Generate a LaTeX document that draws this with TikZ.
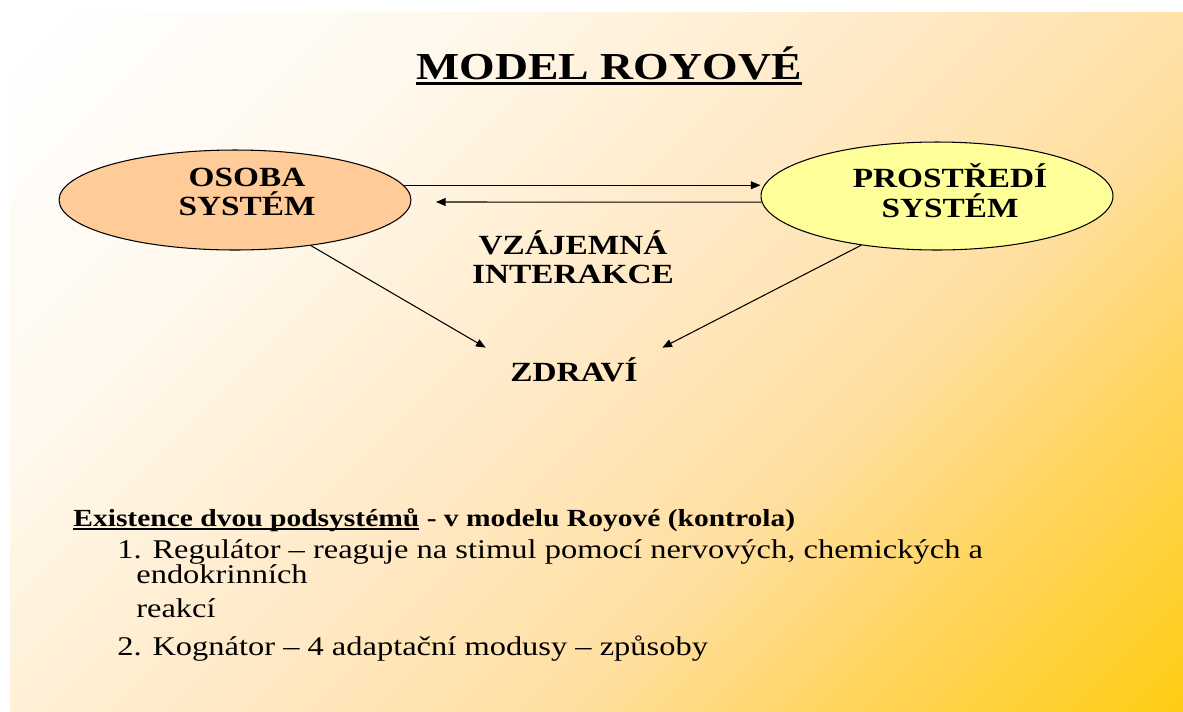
\documentclass[tikz,border=0pt]{standalone}
\usepackage{fontspec}
\setmainfont{Liberation Serif}[FakeStretch=1.2]
\usetikzlibrary{arrows.meta,shapes.geometric,positioning}

\definecolor{osobafill}{HTML}{FFCC99}
\definecolor{prostredifill}{HTML}{FFFF99}
\definecolor{bgA}{HTML}{FFF8EC}
\definecolor{bgB}{HTML}{FFE8C2}
\definecolor{bgC}{HTML}{FFDFA0}
\definecolor{bgD}{HTML}{FFD560}
\definecolor{bgE}{HTML}{FFCC10}
\pgfdeclarehorizontalshading{slidebg}{100bp}{color(0bp)=(white); color(16bp)=(white); color(32bp)=(bgA); color(50bp)=(bgB); color(62bp)=(bgC); color(72bp)=(bgD); color(86bp)=(bgE); color(100bp)=(bgE)}

% underlined text: #1 drop below baseline, #2 rule thickness
\newcommand\ulbox[3]{\setbox0\hbox{#3}\rlap{\rule[-#1]{\wd0}{#2}}\box0}

\begin{document}
\begin{tikzpicture}[x=0.02cm,y=-0.02cm,
  ell/.style={ellipse,draw=black,line width=0.6pt,minimum width=7.04cm,inner sep=0pt},
  lbl/.style={align=center,font=\fontsize{15.8}{17}\selectfont\bfseries},
  txt/.style={anchor=base west,inner sep=0pt,font=\fontsize{15.4}{18}\selectfont},
  arr/.style={-{Triangle[length=5.5pt,width=4.5pt]},line width=0.6pt}]
\useasboundingbox (0,0) rectangle (1183,711);
\shade[shading=slidebg,shading angle=-45] (10,12) rectangle (1183,711);

\node[anchor=base,inner sep=0pt,font=\fontsize{21.7}{26}\selectfont\bfseries] (title) at (609,79) {\ulbox{3.5pt}{1.7pt}{MODEL ROYOVÉ}};

% the two systems
\node[ell,fill=osobafill,minimum height=2cm,
  label={[lbl,xshift=0.24cm,yshift=0.16cm]center:OSOBA\\SYSTÉM}] (osoba) at (235,200) {};
\node[ell,fill=prostredifill,minimum height=2.16cm,
  label={[lbl,xshift=0.26cm,yshift=0.1cm]center:PROSTŘEDÍ\\SYSTÉM}] (prostredi) at (937,196) {};
\node[lbl,font=\fontsize{15.8}{16.5}\selectfont\bfseries] (vztah) at (573,257) {VZÁJEMNÁ\\INTERAKCE};
\node[lbl,minimum width=3.52cm,minimum height=0.88cm] (zdravi) at (574,370) {ZDRAVÍ};

\draw[arr] (osoba.5) -- (osoba.5 -| prostredi.west);
\coordinate (back) at (436,202);
\draw[arr] (prostredi.182) -- (back);
\draw[arr] (osoba.-31) -- (zdravi.north west);
\draw[arr] (prostredi.213) -- (zdravi.north east);

% text below
\node[txt,font=\fontsize{14}{17}\selectfont\bfseries] (head) at (73,526) {\ulbox{2pt}{1.1pt}{Existence dvou podsystémů}\ - v modelu Royové (kontrola)};
\node[txt] (reg) at (117,558) {1. Regulátor – reaguje na stimul pomocí nervových, chemických a};
\node[txt] (endo) at (136,583) {endokrinních};
\node[txt] (reak) at (136,617) {reakcí};
\node[txt] (kog) at (117,655) {2. Kognátor – 4 adaptační modusy – způsoby};
\end{tikzpicture}
\end{document}
